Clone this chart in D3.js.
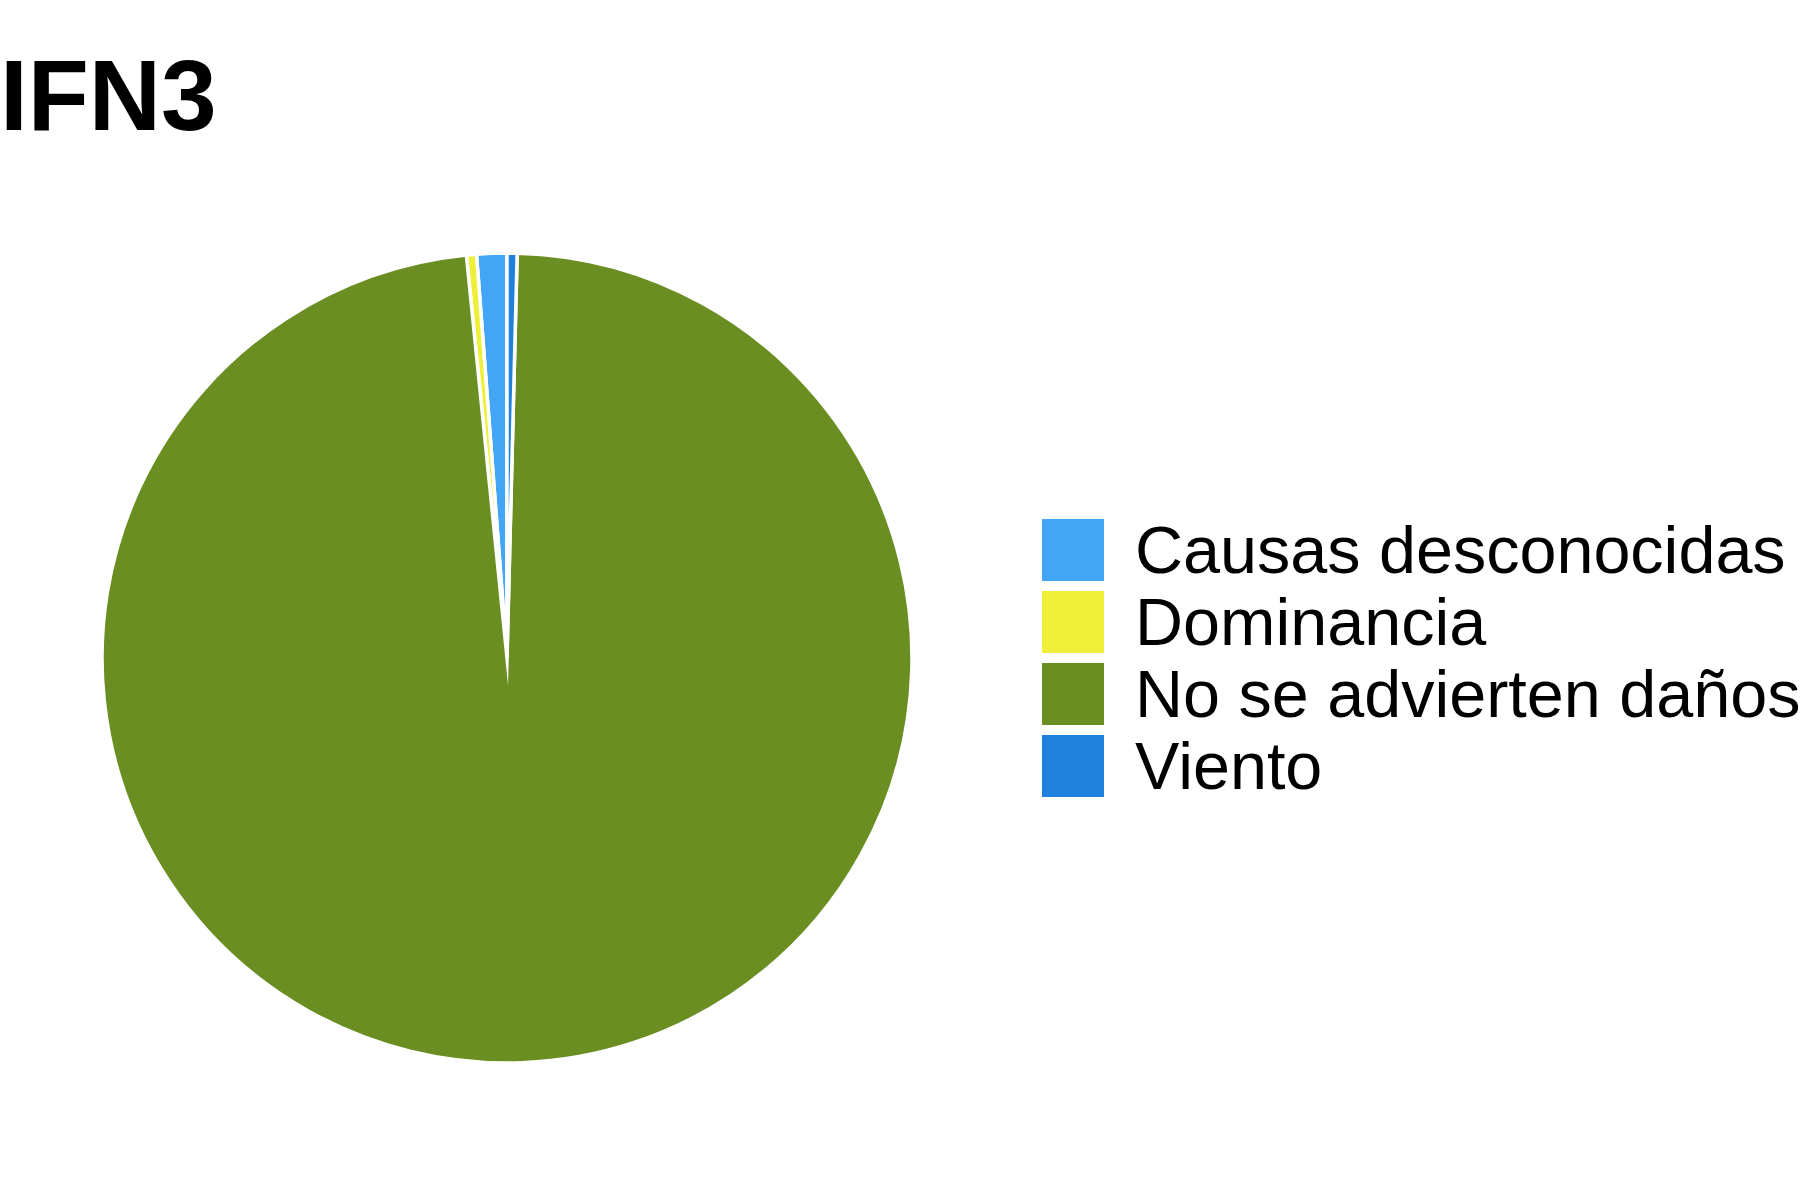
<!DOCTYPE html>
<html>
<head>
<meta charset="utf-8">
<script src="https://cdn.jsdelivr.net/npm/d3@7"></script>
<style>
  body { margin: 0; background: #fff; }
  text { font-family: "Liberation Sans", Arial, sans-serif; }
</style>
</head>
<body>
<div id="chart"></div>
<script>
// data (percent of plots)
var categories = ["Causas desconocidas", "Dominancia", "No se advierten daños", "Viento"];
var values = [1.2, 0.4, 98.0, 0.4];
var colors = ["#42a5f5", "#efef3a", "#6b8e23", "#1e82dc"];

var width = 1800, height = 1200;
var cx = 507, cy = 658, radius = 405;

var svg = d3.select("#chart").append("svg")
  .attr("width", width)
  .attr("height", height);

// title
svg.append("text")
  .attr("x", 0)
  .attr("y", 130)
  .attr("font-size", 100)
  .attr("font-weight", "bold")
  .text("IFN3");

var color = d3.scaleOrdinal().domain(categories).range(colors);

var data = categories.map(function(c, i) { return {name: c, value: values[i]}; });

// slices run counter-clockwise from 12 o'clock
var pie = d3.pie()
  .sort(null)
  .startAngle(0)
  .endAngle(-2 * Math.PI)
  .value(function(d) { return d.value; });

var arc = d3.arc().innerRadius(0).outerRadius(radius);

var g = svg.append("g")
  .attr("transform", "translate(" + cx + "," + cy + ")");

g.selectAll("path")
  .data(pie(data))
  .enter().append("path")
  .attr("d", arc)
  .attr("fill", function(d) { return color(d.data.name); })
  .attr("stroke", "#fff")
  .attr("stroke-width", 3.5)
  .attr("stroke-linejoin", "miter")
  .attr("stroke-miterlimit", 20);

// legend
var legend = svg.append("g")
  .attr("transform", "translate(1042,519)");

var item = legend.selectAll("g")
  .data(categories)
  .enter().append("g")
  .attr("transform", function(d, i) { return "translate(0," + (i * 72) + ")"; });

item.append("rect")
  .attr("width", 62)
  .attr("height", 62)
  .attr("fill", function(d) { return color(d); });

item.append("text")
  .attr("x", 93)
  .attr("y", 54)
  .attr("font-size", 66.5)
  .text(function(d) { return d; });
</script>
</body>
</html>
